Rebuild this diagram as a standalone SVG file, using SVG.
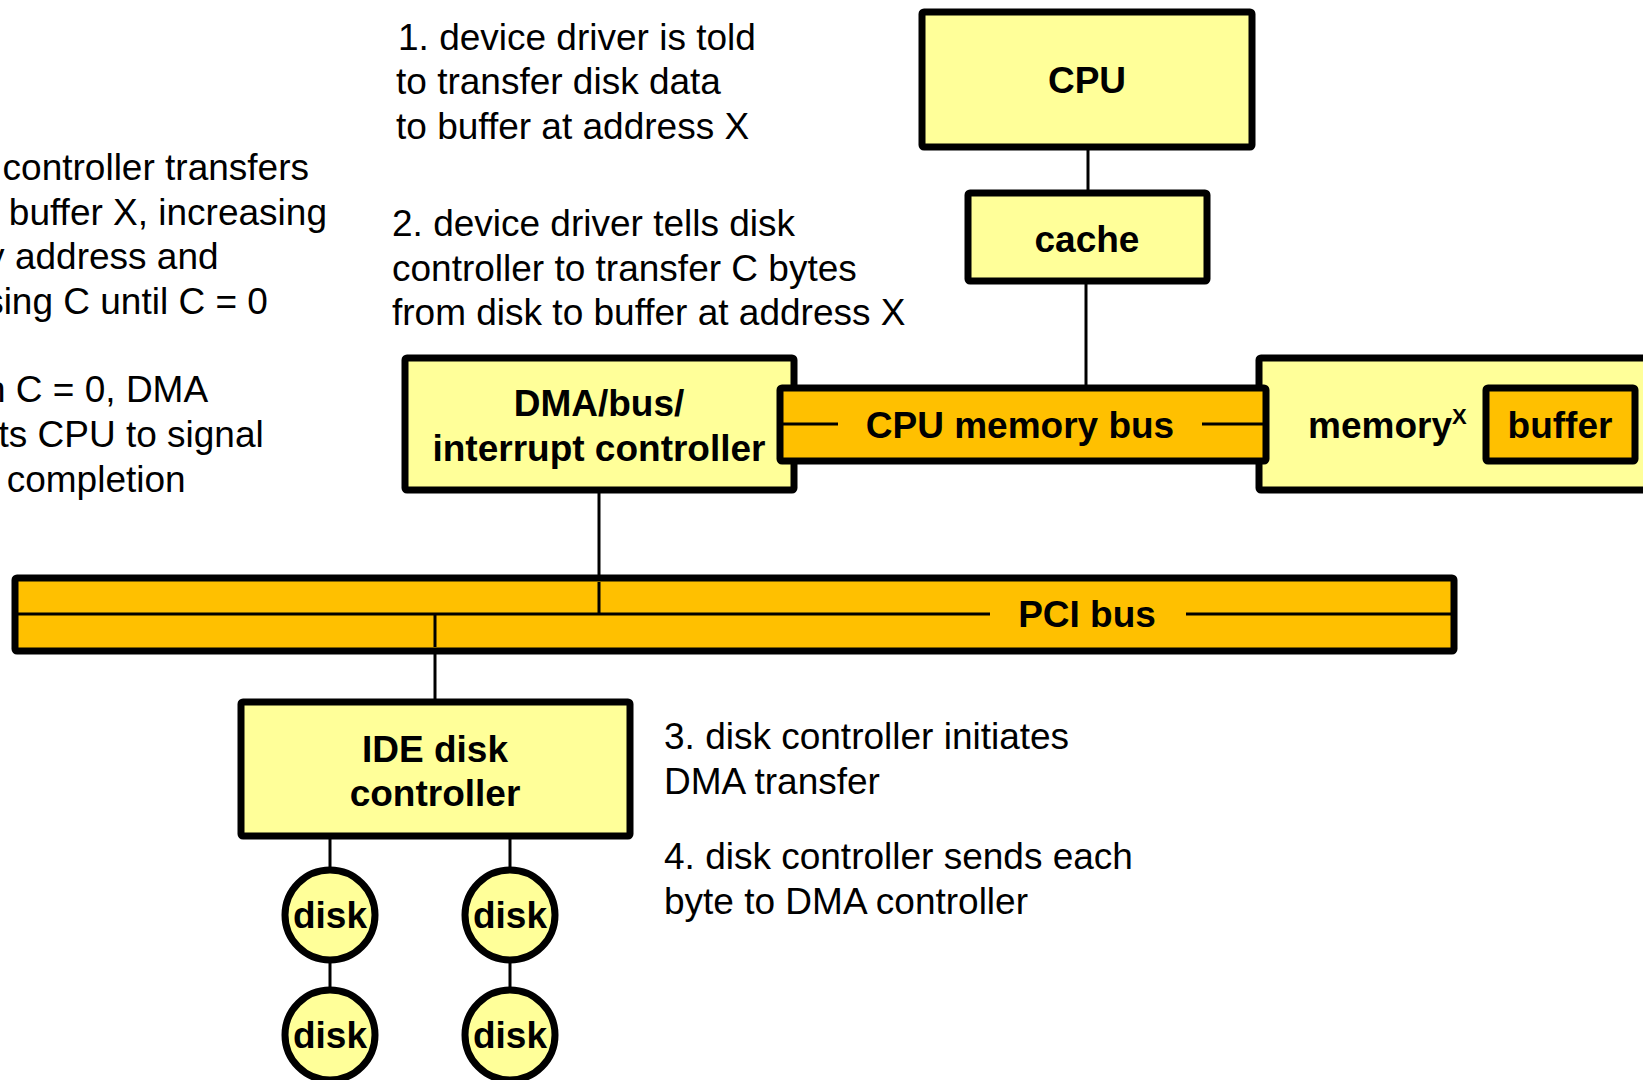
<svg xmlns="http://www.w3.org/2000/svg" width="1643" height="1080" viewBox="0 0 1643 1080">
<style>
.box{fill:#FFFF99;stroke:#000;stroke-width:7}
.bus{fill:#FFC000;stroke:#000;stroke-width:7}
.disk{fill:#FFFF99;stroke:#000;stroke-width:7}
.ln{stroke:#000;stroke-width:3;fill:none}
.lbl{font-family:"Liberation Sans",Arial,sans-serif;font-weight:bold;font-size:37px;fill:#000;text-anchor:middle}
.note{font-family:"Liberation Sans",Arial,sans-serif;font-size:37px;fill:#000}
</style>
<rect width="1643" height="1080" fill="#fff"/>
<g id="notes" class="note">
<text x="398" y="50">1. device driver is told</text>
<text x="396" y="94">to transfer disk data</text>
<text x="396" y="139">to buffer at address X</text>
<text x="392" y="236">2. device driver tells disk</text>
<text x="392" y="281">controller to transfer C bytes</text>
<text x="392" y="325">from disk to buffer at address X</text>
<text x="664" y="749">3. disk controller initiates</text>
<text x="664" y="794">DMA transfer</text>
<text x="664" y="869">4. disk controller sends each</text>
<text x="664" y="914">byte to DMA controller</text>
<text x="-129" y="180">5. DMA controller transfers</text>
<text x="-131" y="225">bytes to buffer X, increasing</text>
<text x="-129" y="269">memory address and</text>
<text x="-128" y="314">decreasing C until C = 0</text>
<text x="-124" y="402">6. when C = 0, DMA</text>
<text x="-127" y="447">interrupts CPU to signal</text>
<text x="-129" y="492">transfer completion</text>
</g>
<g id="connectors">
<line class="ln" x1="1088" y1="149" x2="1088" y2="191"/>
<line class="ln" x1="1086" y1="283" x2="1086" y2="390"/>
<line class="ln" x1="599" y1="492" x2="599" y2="614"/>
<line class="ln" x1="435" y1="614" x2="435" y2="700"/>
<line class="ln" x1="330" y1="838" x2="330" y2="870"/>
<line class="ln" x1="510" y1="838" x2="510" y2="870"/>
<line class="ln" x1="330" y1="960" x2="330" y2="990"/>
<line class="ln" x1="510" y1="960" x2="510" y2="990"/>
</g>
<g id="cpu"><rect class="box" x="922" y="12" width="330" height="135" rx="2"/><text class="lbl" x="1087" y="93">CPU</text></g>
<g id="cache"><rect class="box" x="968" y="193" width="239" height="88" rx="2"/><text class="lbl" x="1087" y="252">cache</text></g>
<g id="dma"><rect class="box" x="405" y="358" width="389" height="132" rx="2"/><text class="lbl" x="599" y="416">DMA/bus/</text><text class="lbl" x="599" y="461">interrupt controller</text></g>
<g id="memory"><rect class="box" x="1259" y="358" width="420" height="132" rx="2"/><text class="lbl" x="1308" y="438" style="text-anchor:start">memory</text><text class="lbl" x="1452" y="424" style="text-anchor:start;font-size:22px">X</text></g>
<g id="buffer"><rect class="bus" x="1486" y="388" width="149" height="73" rx="2"/><text class="lbl" x="1560" y="438">buffer</text></g>
<g id="cpu-memory-bus"><rect class="bus" x="780" y="388" width="486" height="73" rx="2"/><line class="ln" x1="781" y1="424" x2="838" y2="424"/><line class="ln" x1="1202" y1="424" x2="1265" y2="424"/><text class="lbl" x="1020" y="438">CPU memory bus</text></g>
<g id="pci-bus"><rect class="bus" x="15" y="578" width="1439" height="73" rx="2"/><line class="ln" x1="16" y1="614" x2="990" y2="614"/><line class="ln" x1="1186" y1="614" x2="1453" y2="614"/><line class="ln" x1="599" y1="582" x2="599" y2="614"/><line class="ln" x1="435" y1="614" x2="435" y2="647"/><text class="lbl" x="1087" y="627">PCI bus</text></g>
<g id="ide"><rect class="box" x="241" y="702" width="389" height="134" rx="2"/><text class="lbl" x="435" y="762">IDE disk</text><text class="lbl" x="435" y="806">controller</text></g>
<g id="disk1"><circle class="disk" cx="330" cy="915" r="45"/><text class="lbl" x="330" y="928">disk</text></g>
<g id="disk2"><circle class="disk" cx="510" cy="915" r="45"/><text class="lbl" x="510" y="928">disk</text></g>
<g id="disk3"><circle class="disk" cx="330" cy="1035" r="45"/><text class="lbl" x="330" y="1048">disk</text></g>
<g id="disk4"><circle class="disk" cx="510" cy="1035" r="45"/><text class="lbl" x="510" y="1048">disk</text></g>
</svg>
